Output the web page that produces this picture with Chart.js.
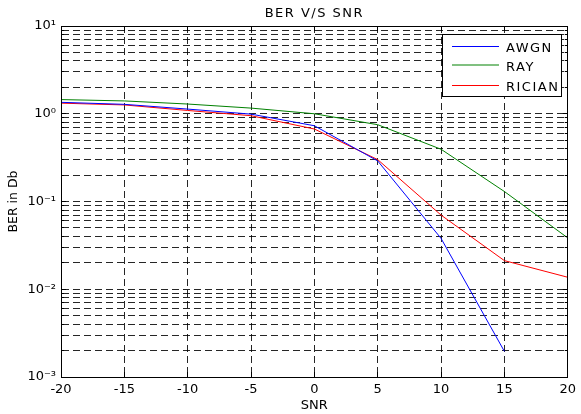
<!DOCTYPE html>
<html>
<head>
<meta charset="utf-8">
<script src="https://cdn.jsdelivr.net/npm/chart.js@4.4.1/dist/chart.umd.min.js"></script>
<style>
  html, body { margin: 0; padding: 0; background: #fff; }
  canvas { display: block; }
</style>
</head>
<body>
<canvas id="berChart" width="581" height="414"></canvas>
<script>
// SNR points and BER values
const snr = [-20, -15, -10, -5, 0, 5, 10, 15, 20];
const awgn = [1.35, 1.28, 1.13, 0.99, 0.73, 0.29, 0.038, 0.00196, null];
const ray = [1.45, 1.40, 1.29, 1.16, 1.00, 0.75, 0.394, 0.130, 0.0385];
const rician = [1.32, 1.26, 1.09, 0.95, 0.67, 0.30, 0.070, 0.0212, 0.0137];

const seriesNames = ['AWGN', 'RAY', 'RICIAN'];
const seriesColors = ['#0000ff', '#008000', '#ff0000'];
const legendColors = ['#0000ff', '#80c080', '#ff0000'];

// y axis: decades get labels, the rest only grid lines
const yDecades = [0.001, 0.01, 0.1, 1, 10];
const yTickLabels = ['10⁻³', '10⁻²', '10⁻¹', '10⁰', '10¹'];
const yMinorSteps = [2, 3, 4, 5, 6, 7, 8, 9];
const xTicks = [-20, -15, -10, -5, 0, 5, 10, 15, 20];

const FONT = 'DejaVu Sans';
const gridColor = 'rgba(0,0,0,0.85)';

function alignPx(p) {
  return Math.round(p - 0.5) + 0.5;
}

// box, inner ticks, title and legend the way matlab draws them
const matlabFrame = {
  id: 'matlabFrame',
  afterDatasetsDraw(chart) {
    const {ctx, chartArea: a, scales: {x, y}} = chart;
    ctx.save();
    ctx.strokeStyle = '#000';
    ctx.lineWidth = 1;
    ctx.setLineDash([]);
    ctx.beginPath();
    y.ticks.forEach(t => {
      const py = alignPx(y.getPixelForValue(t.value));
      const len = yDecades.includes(t.value) ? 5 : 3;
      ctx.moveTo(a.left, py); ctx.lineTo(a.left + len, py);
      ctx.moveTo(a.right, py); ctx.lineTo(a.right - len, py);
    });
    x.ticks.forEach(t => {
      const px = alignPx(x.getPixelForValue(t.value));
      ctx.moveTo(px, a.bottom); ctx.lineTo(px, a.bottom - 5);
      ctx.moveTo(px, a.top); ctx.lineTo(px, a.top + 5);
    });
    ctx.stroke();
    const l = alignPx(a.left), r = alignPx(a.right);
    const t = alignPx(a.top), b = alignPx(a.bottom);
    ctx.strokeRect(l, t, r - l, b - t);

    // legend
    const bx = Math.round(a.right) - 126, by = Math.round(a.top) + 8;
    ctx.fillStyle = '#fff';
    ctx.fillRect(bx, by, 119, 62);
    ctx.strokeRect(bx + 0.5, by + 0.5, 119, 62);
    ctx.font = '13px "' + FONT + '"';
    ctx.letterSpacing = '1.5px';
    ctx.textAlign = 'left';
    ctx.textBaseline = 'alphabetic';
    seriesNames.forEach((name, i) => {
      const ly = Math.round(by + 12 + i * 19.3);
      ctx.strokeStyle = legendColors[i];
      ctx.lineWidth = i === 1 ? 2 : 1;
      const off = i === 1 ? 0 : 0.5;
      ctx.beginPath();
      ctx.moveTo(bx + 10, ly + off);
      ctx.lineTo(bx + 57, ly + off);
      ctx.stroke();
      ctx.fillStyle = '#000';
      ctx.fillText(name, bx + 64, ly + 6);
    });

    // title
    ctx.textAlign = 'center';
    ctx.fillText('BER V/S SNR', (a.left + a.right) / 2, 17);
    ctx.restore();
  }
};

new Chart(document.getElementById('berChart'), {
  type: 'line',
  data: {
    datasets: [awgn, ray, rician].map((vals, i) => ({
      label: seriesNames[i],
      data: snr.map((s, k) => ({x: s, y: vals[k]})),
      borderColor: seriesColors[i],
      borderWidth: 1,
      pointRadius: 0,
      fill: false,
      tension: 0,
      spanGaps: false
    }))
  },
  options: {
    responsive: false,
    animation: false,
    devicePixelRatio: 1,
    layout: {padding: {top: 26, right: 8, left: 0, bottom: 0}},
    plugins: {legend: {display: false}, tooltip: {enabled: false}},
    scales: {
      x: {
        type: 'linear',
        min: -20,
        max: 20,
        afterBuildTicks: s => { s.ticks = xTicks.map(v => ({value: v})); },
        afterFit: s => { s.height = 37; },
        grid: {color: gridColor, drawTicks: false},
        border: {color: '#000', dash: [7, 4]},
        ticks: {padding: 5, color: '#000', autoSkip: false, maxRotation: 0,
          font: {family: FONT, size: 13}},
        title: {display: true, text: 'SNR', color: '#000',
          font: {family: FONT, size: 13}, padding: {top: 0, bottom: 1}}
      },
      y: {
        type: 'logarithmic',
        min: 0.001,
        max: 10,
        afterBuildTicks: s => {
          const vals = [];
          yDecades.forEach(d => {
            vals.push(d);
            yMinorSteps.forEach(m => { if (d * m < 10) vals.push(d * m); });
          });
          s.ticks = vals.map(v => ({value: v}));
        },
        afterFit: s => { s.width = 61; },
        grid: {color: gridColor, drawTicks: false},
        border: {color: '#000', dash: [7, 4]},
        ticks: {
          padding: 5, color: '#000', autoSkip: false,
          font: {family: FONT, size: 13},
          callback: v => {
            const i = yDecades.indexOf(v);
            return i >= 0 ? yTickLabels[i] : '';
          }
        },
        title: {display: true, text: 'BER in Db', color: '#000',
          font: {family: FONT, size: 12.5}, padding: {top: 6, bottom: 0}}
      }
    }
  },
  plugins: [matlabFrame]
});
</script>
</body>
</html>
